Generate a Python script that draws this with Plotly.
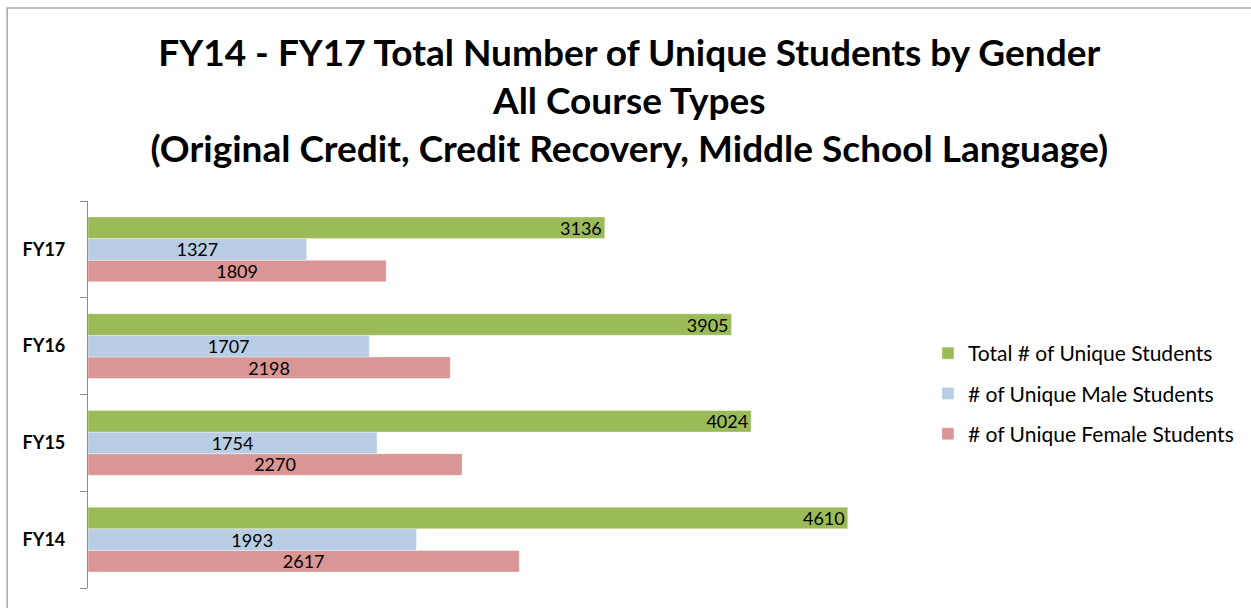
import plotly.graph_objects as go

categories = ["FY14", "FY15", "FY16", "FY17"]
total = [4610, 4024, 3905, 3136]
male = [1993, 1754, 1707, 1327]
female = [2617, 2270, 2198, 1809]

series_names = ["Total # of Unique Students", "# of Unique Male Students", "# of Unique Female Students"]
colors = ["#9BBB59", "#B9CDE5", "#D99694"]

W, H = 1251, 608
ml, mr, mt, mb = 88, 337, 201, 20
FONT = "Lato, Open Sans, sans-serif"

fig = go.Figure()
# Plotly stacks grouped horizontal bars bottom-up, so add Female first
order = [(2, female, "middle"), (1, male, "middle"), (0, total, "end")]
for idx, vals, anchor in order:
    fig.add_trace(go.Bar(
        y=categories, x=vals, orientation="h",
        name=series_names[idx],
        legendgroup=str(idx),
        legendrank=idx + 1,
        marker=dict(color=colors[idx], line=dict(color="rgba(255,255,255,0.6)", width=0.6)),
        text=[str(v) for v in vals],
        textposition="inside",
        insidetextanchor=anchor,
        textangle=0,
        constraintext="none",
        textfont=dict(family=FONT, size=18, color="black"),
        hoverinfo="x+name",
    ))

pw = W - ml - mr
ph = H - mt - mb

fig.update_layout(
    width=W, height=H,
    margin=dict(l=ml, r=mr, t=mt, b=mb),
    paper_bgcolor="white", plot_bgcolor="white",
    barmode="group", bargap=0.33, bargroupgap=0,
    title=dict(
        text="FY14 - FY17 Total Number of Unique Students by Gender<br>All Course Types<br>(Original Credit, Credit Recovery, Middle School Language)",
        x=0.503, xanchor="center", y=1 - 66 / H, yanchor="middle",
        font=dict(family=FONT, size=37, color="black", weight="bold"),
    ),
    xaxis=dict(range=[0, 5000], visible=False, fixedrange=True),
    yaxis=dict(
        type="category", tickson="boundaries",
        showline=True, linecolor="#8C8C8C", linewidth=1.2,
        ticks="outside", ticklen=7, tickcolor="#8C8C8C", tickwidth=1.2,
        tickfont=dict(family=FONT, size=18, color="black", weight="bold"),
        ticklabelstandoff=18,
        showgrid=False, zeroline=False,
    ),
    legend=dict(
        x=(930 - ml) / pw, xanchor="left", y=(mt + ph - 333) / ph, yanchor="top",
        traceorder="grouped", tracegroupgap=10,
        font=dict(family=FONT, size=21, color="black"),
        itemwidth=30, bgcolor="rgba(0,0,0,0)",
    ),
    showlegend=True,
    shapes=[dict(
        type="rect", xref="paper", yref="paper",
        x0=(7 - ml) / pw, x1=1.6, y0=-0.3, y1=(mt + ph - 8) / ph,
        line=dict(color="#A6A6A6", width=1.5), fillcolor="rgba(0,0,0,0)", layer="below",
    )],
)

fig.write_html("out.html", post_script="document.body.style.margin='0';",
               config={"displayModeBar": False})
